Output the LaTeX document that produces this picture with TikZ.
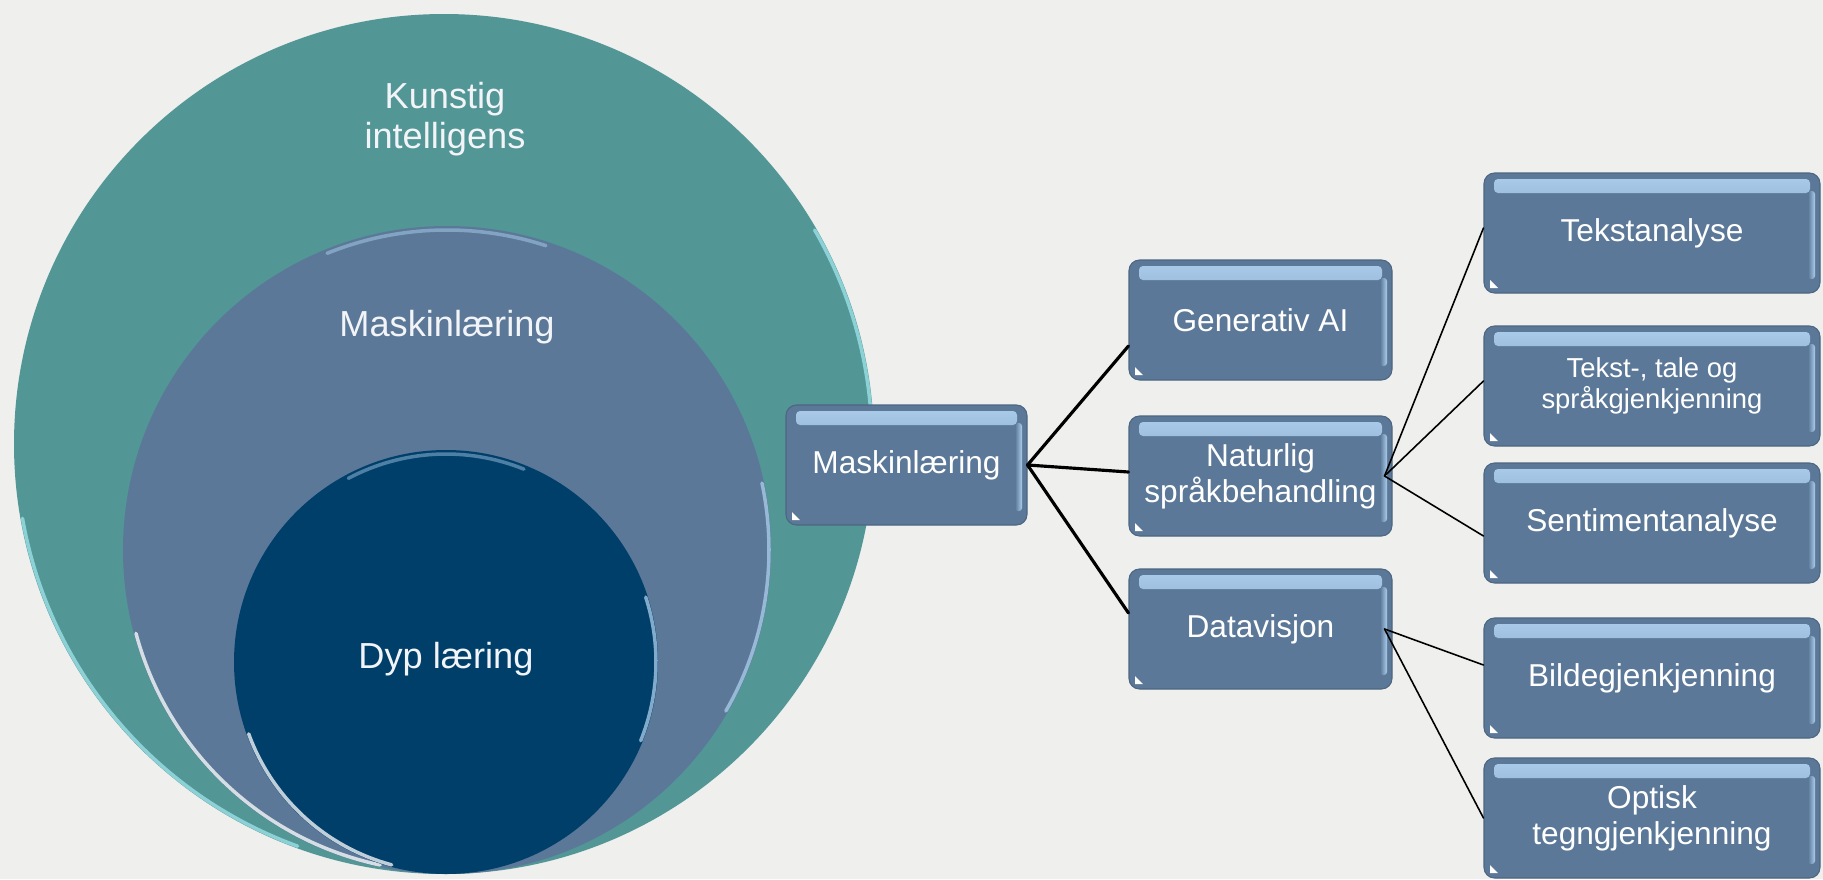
\documentclass[tikz,border=0pt]{standalone}
\usepackage{fontspec}
\setmainfont{Liberation Sans}
\definecolor{bakgrunn}{RGB}{239,239,237}
\definecolor{kifarge}{RGB}{82,150,150}
\definecolor{mlfarge}{RGB}{91,120,152}
\definecolor{dlfarge}{RGB}{1,63,107}
\definecolor{glans}{RGB}{172,206,236}
\definecolor{kant}{RGB}{160,230,235}
\tikzset{
  boks/.style={fill=mlfarge, draw=mlfarge!85!black, line width=.3pt, rounded corners=3pt,
    minimum height=1.2cm, text=white, align=center, inner sep=2pt,
    font=\fontsize{9}{10.2}\selectfont,
    path picture={
      \shade[draw=none, top color=glans, bottom color=mlfarge, rounded corners=.4mm] ([xshift=1mm,yshift=-.6mm]path picture bounding box.north west) rectangle ([xshift=-1mm,yshift=-2mm]path picture bounding box.north east);
      \shade[draw=none, left color=mlfarge, right color=glans, rounded corners=.3mm] ([xshift=-1.2mm,yshift=-1.8mm]path picture bounding box.north east) rectangle ([xshift=-.5mm,yshift=1.4mm]path picture bounding box.south east);
      \fill[draw=none, white, sharp corners] ([xshift=.6mm,yshift=.5mm]path picture bounding box.south west) -- ++(.8mm,0) -- ++(-.8mm,.8mm) -- cycle;}},
  midtboks/.style={boks, minimum width=2.63cm},
  hoyreboks/.style={boks, minimum width=3.36cm},
  sirkeltekst/.style={text=white!92!mlfarge, align=center, font=\fontsize{10.3}{11.4}\selectfont},
  glansbue/.style={line width=1pt, opacity=.75},
  grein/.style={line width=.9pt, black},
  kvist/.style={line width=.45pt, black}
}
\begin{document}
\begin{tikzpicture}[line join=round, line cap=round]
  \fill[bakgrunn] (0,0) rectangle (18.23,8.79);
  % sirklene
  \fill[kifarge] (4.44,4.35) circle (4.30);
  \draw[glansbue, kant] ([shift={(190:4.28)}]4.44,4.35) arc[start angle=190, end angle=250, radius=4.28];
  \draw[glansbue, kant] ([shift={(-10:4.28)}]4.44,4.35) arc[start angle=-10, end angle=30, radius=4.28];
  \fill[mlfarge] (4.47,3.29) circle (3.24);
  \draw[glansbue, white] ([shift={(195:3.22)}]4.47,3.29) arc[start angle=195, end angle=258, radius=3.22];
  \draw[glansbue, glans] ([shift={(-30:3.22)}]4.47,3.29) arc[start angle=-30, end angle=12, radius=3.22];
  \draw[glansbue, glans, opacity=.5] ([shift={(72:3.20)}]4.47,3.29) arc[start angle=72, end angle=112, radius=3.20];
  \fill[dlfarge] (4.46,2.17) circle (2.12);
  \draw[glansbue, white] ([shift={(200:2.10)}]4.46,2.17) arc[start angle=200, end angle=255, radius=2.10];
  \draw[glansbue, glans] ([shift={(-22:2.10)}]4.46,2.17) arc[start angle=-22, end angle=18, radius=2.10];
  \draw[glansbue, glans, opacity=.45] ([shift={(68:2.08)}]4.46,2.17) arc[start angle=68, end angle=118, radius=2.08];
  \node[sirkeltekst] (kitekst) at (4.45,7.60) {Kunstig\\intelligens};
  \node[sirkeltekst] (mltekst) at (4.47,5.52) {Maskinlæring};
  \node[sirkeltekst] (dltekst) at (4.46,2.20) {Dyp læring};
  % boksene
  \node[boks, minimum width=2.41cm] (ml) at (9.065,4.14) {Maskinlæring};
  \node[midtboks] (gen) at (12.605,5.59) {Generativ AI};
  \node[midtboks] (nlp) at (12.605,4.03) {Naturlig\\språkbehandling};
  \node[midtboks] (data) at (12.605,2.50) {Datavisjon};
  \node[hoyreboks] (teks) at (16.52,6.46) {Tekstanalyse};
  \node[hoyreboks, font=\fontsize{7.8}{9}\selectfont] (tale) at (16.52,4.93) {Tekst-, tale og\\språkgjenkjenning};
  \node[hoyreboks] (senti) at (16.52,3.56) {Sentimentanalyse};
  \node[hoyreboks] (bilde) at (16.52,2.01) {Bildegjenkjenning};
  \node[hoyreboks] (optisk) at (16.52,0.61) {Optisk\\tegngjenkjenning};
  % forbindelser
  \draw[grein] (ml.east) -- ([yshift=-2.6mm]gen.west);
  \draw[grein] (ml.east) -- ([yshift=.4mm]nlp.west);
  \draw[grein] (ml.east) -- ([yshift=1.6mm]data.west);
  \draw[kvist] ([xshift=-.8mm]nlp.east) -- ([yshift=.5mm]teks.west);
  \draw[kvist] ([xshift=-.8mm]nlp.east) -- ([yshift=.5mm]tale.west);
  \draw[kvist] ([xshift=-.8mm]nlp.east) -- ([yshift=-1.3mm]senti.west);
  \draw[kvist] ([xshift=-.8mm]data.east) -- ([yshift=1.3mm]bilde.west);
  \draw[kvist] ([xshift=-.8mm]data.east) -- (optisk.west);
  \pgfresetboundingbox
  \path[use as bounding box] (0,0) rectangle (18.23,8.79);
\end{tikzpicture}
\end{document}
